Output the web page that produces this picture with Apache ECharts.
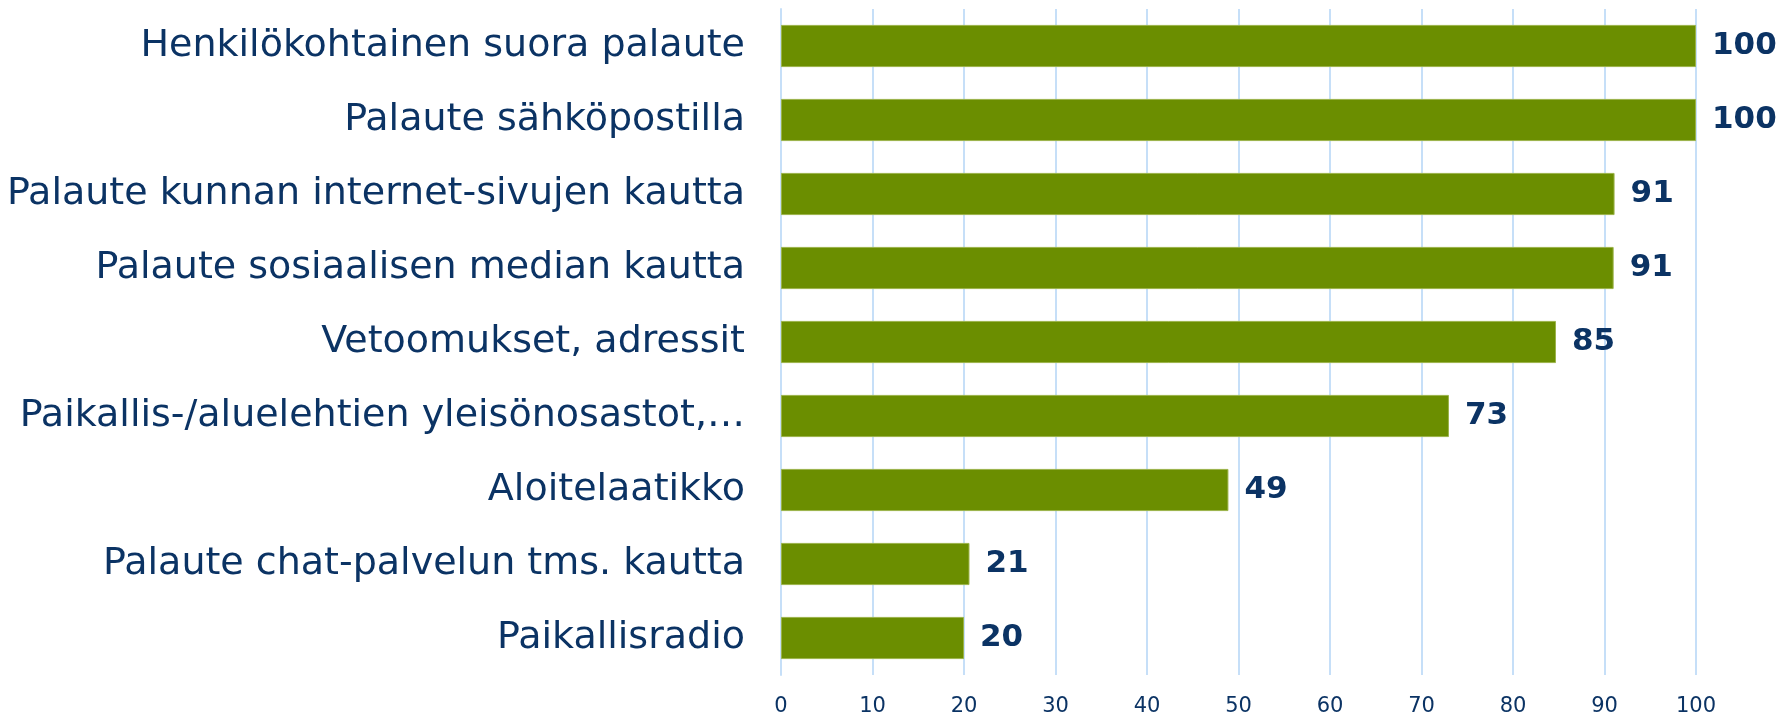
<!DOCTYPE html>
<html>
<head>
<meta charset="utf-8">
<script src="https://cdn.jsdelivr.net/npm/echarts@6/dist/echarts.min.js"></script>
<style>
  html, body { margin: 0; padding: 0; background: #fff; }
  #chart { width: 1783px; height: 717px; }
</style>
</head>
<body>
<div id="chart"></div>
<script>
// palautekanavat, ylhäältä alas
const categories = [
  "Henkilökohtainen suora palaute",
  "Palaute sähköpostilla",
  "Palaute kunnan internet-sivujen kautta",
  "Palaute sosiaalisen median kautta",
  "Vetoomukset, adressit",
  "Paikallis-/aluelehtien yleisönosastot,…",
  "Aloitelaatikko",
  "Palaute chat-palvelun tms. kautta",
  "Paikallisradio",
]
const values = [100, 100, 91.1, 91.0, 84.7, 73, 48.9, 20.6, 20]

const navy = "#0b3364"

const chart = echarts.init(document.getElementById("chart"))

chart.setOption({
  backgroundColor: "#fff",
  animation: false,
  grid: { left: 781, right: 87, top: 9, bottom: 40 },
  xAxis: {
    type: "value",
    min: 0,
    max: 100,
    interval: 10,
    axisLine: { show: false },
    axisTick: { show: false },
    axisLabel: { color: navy, fontSize: 21, fontFamily: "DejaVu Sans", margin: 21 },
    splitLine: { lineStyle: { color: "#c6dff8", width: 2 } },
  },
  yAxis: {
    type: "category",
    inverse: true,
    data: categories,
    axisLine: { show: true, lineStyle: { color: "#c6dff8", width: 2 } },
    axisTick: { show: false },
    axisLabel: { color: navy, fontSize: 38, fontFamily: "DejaVu Sans", margin: 36 },
  },
  series: [
    {
      type: "bar",
      data: values,
      barCategoryGap: "43%",
      itemStyle: { color: "#6b8e00", borderColor: "#9cb34a", borderWidth: 1 },
      label: {
        show: true,
        position: "right",
        distance: 16,
        color: navy,
        fontSize: 31,
        fontWeight: "bold",
        fontFamily: "DejaVu Sans",
        formatter: (p) => Math.round(p.value),
      },
    },
  ],
})
</script>
</body>
</html>
